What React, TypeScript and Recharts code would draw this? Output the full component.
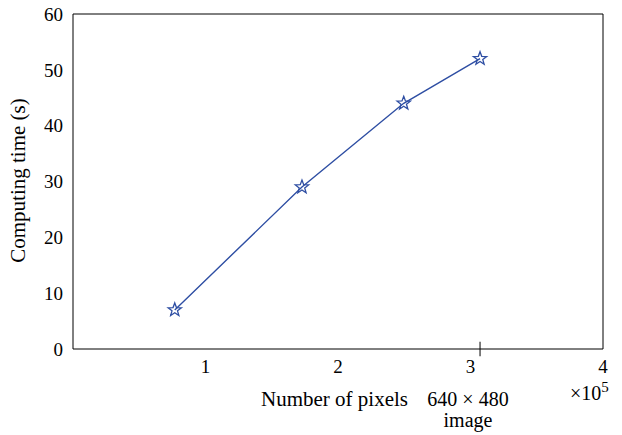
import { LineChart, Line, XAxis, YAxis, ReferenceLine, Label } from 'recharts';

// number of pixels (x10^5) vs. computing time (s)
const pixels = [0.768, 1.728, 2.496, 3.072];
const seconds = [7, 29, 44, 52];
const xTicks = [1, 2, 3, 4];
const yTicks = [0, 10, 20, 30, 40, 50, 60];
const markedImage = pixels[3]; // 640 x 480

const data = pixels.map((p, i) => ({ pixels: p, time: seconds[i] }));

const FONT = '"Liberation Serif", "Times New Roman", serif';
const BLUE = '#2e4ea3';
const tickStyle = { fontFamily: FONT, fontSize: 19, fill: '#000' };

function StarDot(props: any) {
  const { cx, cy } = props;
  if (cx == null || cy == null) return null;
  const pts: string[] = [];
  for (let i = 0; i < 10; i++) {
    const r = i % 2 === 0 ? 7 : 2.9;
    const a = -Math.PI / 2 + (i * Math.PI) / 5;
    pts.push(`${cx + r * Math.cos(a)},${cy + r * Math.sin(a)}`);
  }
  return <polygon points={pts.join(' ')} fill="none" stroke={BLUE} strokeWidth={1.3} />;
}

function XLabel(props: any) {
  const { x, y } = props.viewBox;
  return (
    <g fontFamily={FONT} fontSize={20} fill="#000">
      <text x={x + 335} y={y + 57} textAnchor="end" fontSize={21}>Number of pixels</text>
      <text x={x + 395} y={y + 57} textAnchor="middle">640 × 480</text>
      <text x={x + 395} y={y + 78} textAnchor="middle">image</text>
      <text x={x + 497} y={y + 51}>
        ×10<tspan dy={-8} fontSize={15}>5</tspan>
      </text>
    </g>
  );
}

function YLabel(props: any) {
  const { x, y, height } = props.viewBox;
  const cx = x + 12;
  const cy = y + height / 2 - 1;
  return (
    <text x={cx} y={cy} transform={`rotate(-90 ${cx} ${cy})`} textAnchor="middle"
      fontFamily={FONT} fontSize={21} fill="#000">
      Computing time (s)
    </text>
  );
}

export default function App() {
  return (
    <div style={{ position: 'absolute', left: 0, top: 0, background: '#fff' }}>
      <LineChart width={622} height={435} data={data}
        margin={{ top: 14, right: 19, bottom: 56, left: 13 }}>
        <XAxis xAxisId="b" dataKey="pixels" type="number" domain={[0, 4]} ticks={xTicks}
          allowDataOverflow tickLine={false} tickSize={0} tickMargin={11} height={30}
          axisLine={{ stroke: '#000' }} tick={tickStyle}>
          <Label content={XLabel} />
        </XAxis>
        <XAxis xAxisId="bm" type="number" domain={[0, 4]} ticks={xTicks} mirror
          axisLine={false} tick={false} tickSize={5} tickLine={{ stroke: '#000' }} />
        <XAxis xAxisId="t" orientation="top" type="number" domain={[0, 4]} ticks={xTicks} mirror
          axisLine={{ stroke: '#000' }} tick={false} tickSize={5} tickLine={{ stroke: '#000' }} />
        <YAxis yAxisId="l" type="number" domain={[0, 60]} ticks={yTicks} width={60}
          tickLine={false} tickSize={0} tickMargin={10} axisLine={{ stroke: '#000' }} tick={tickStyle}>
          <Label content={YLabel} />
        </YAxis>
        <YAxis yAxisId="lm" type="number" domain={[0, 60]} ticks={yTicks} mirror
          axisLine={false} tick={false} tickSize={5} tickLine={{ stroke: '#000' }} />
        <YAxis yAxisId="r" orientation="right" type="number" domain={[0, 60]} ticks={yTicks} mirror
          axisLine={{ stroke: '#000' }} tick={false} tickSize={5} tickLine={{ stroke: '#000' }} />
        <ReferenceLine xAxisId="b" yAxisId="l" ifOverflow="visible" stroke="#000"
          segment={[{ x: markedImage, y: -1.3 }, { x: markedImage, y: 1.3 }]} />
        <Line xAxisId="b" yAxisId="l" type="linear" dataKey="time" stroke={BLUE}
          strokeWidth={1.4} dot={<StarDot />} activeDot={false} isAnimationActive={false} />
      </LineChart>
    </div>
  );
}
